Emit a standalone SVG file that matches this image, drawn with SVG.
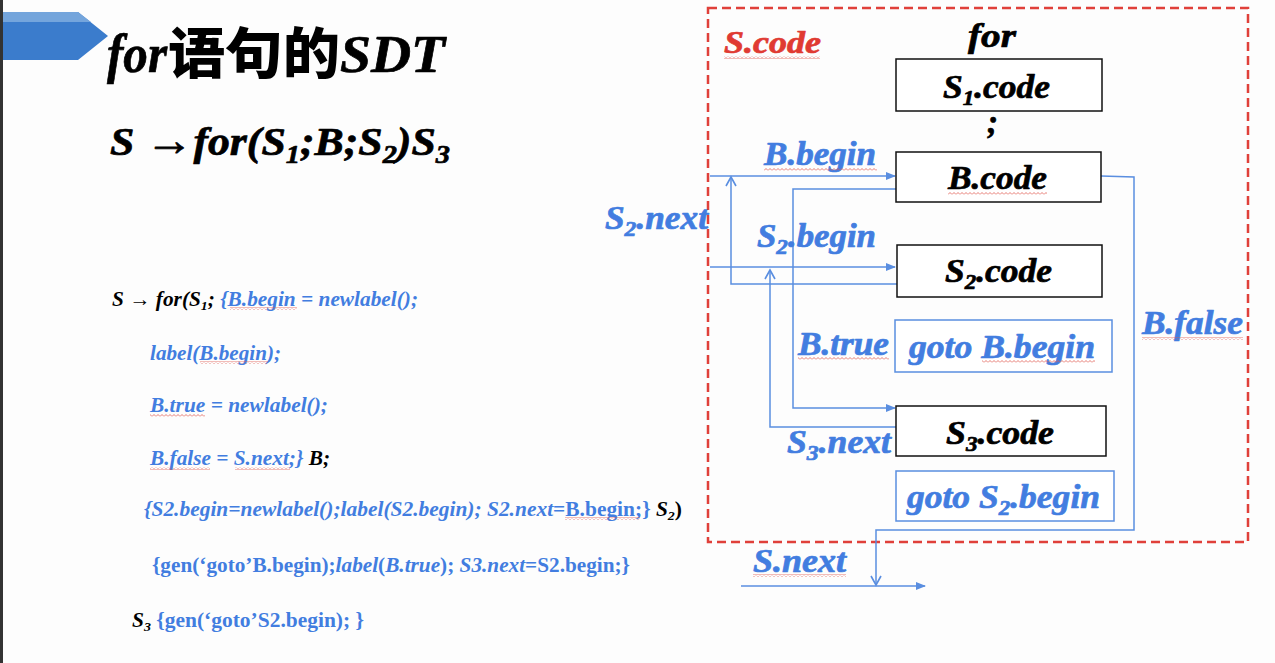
<svg xmlns="http://www.w3.org/2000/svg" width="1275" height="663" viewBox="0 0 1275 663">
<style>
text{font-family:"Liberation Serif","Times New Roman",serif;font-weight:bold;font-style:italic}
.k{fill:#000}
.b{fill:#427de0}
.r{fill:#e03a32}
.up{font-style:normal}
.cjk{font-family:"Noto Sans CJK SC",sans-serif;font-style:normal;font-weight:900}
.heavy{stroke-width:0.7;stroke-linejoin:round}
.heavy.k{stroke:#000}
.heavy.b{stroke:#427de0}
.heavy.r{stroke:#e03a32}
.box{fill:#fff;stroke:#111;stroke-width:1.5}
.bbox{fill:#fff;stroke:#5a8ee0;stroke-width:1.5}
.ln{fill:none;stroke:#5a8ee0;stroke-width:1.5}
.wave{fill:url(#wv)}
</style>
<defs>
<marker id="tri" markerWidth="10" markerHeight="8" refX="9" refY="4" orient="auto" markerUnits="userSpaceOnUse"><path d="M0,0 L10,4 L0,8 z" fill="#5a8ee0"/></marker>
<marker id="vee" markerWidth="12" markerHeight="12" refX="10" refY="6" orient="auto" markerUnits="userSpaceOnUse"><path d="M1,1 L10,6 L1,11" fill="none" stroke="#5a8ee0" stroke-width="1.6"/></marker>
<pattern id="wv" width="4" height="3" patternUnits="userSpaceOnUse"><path d="M0,2.5 L2,0.5 L4,2.5" fill="none" stroke="#e05a50" stroke-width="0.8"/></pattern>
</defs>
<rect width="1275" height="663" fill="#fdfdfd"/>
<rect x="0" y="0" width="3" height="663" fill="#333"/>
<g id="banner">
<polygon points="3,12 78,12 108,36 78,60 3,60" fill="#3b7ccc"/>
<polygon points="3,12 78,12 91,22 3,22" fill="#74a5dc"/>
</g>
<g id="title">
<text x="107" y="72" font-size="54" class="k heavy" textLength="60" lengthAdjust="spacingAndGlyphs">for</text>
<text x="168" y="73" font-size="55" class="k cjk" textLength="172" lengthAdjust="spacingAndGlyphs">语句的</text>
<text x="340" y="72" font-size="52" class="k heavy" textLength="105" lengthAdjust="spacingAndGlyphs">SDT</text>
</g>
<g id="production">
<text x="110" y="155" font-size="40" class="k heavy" textLength="340" lengthAdjust="spacingAndGlyphs">S <tspan font-size="44">→</tspan>for(S<tspan dy="8" font-size="26">1</tspan><tspan dy="-8">;B;S</tspan><tspan dy="8" font-size="26">2</tspan><tspan dy="-8">)S</tspan><tspan dy="8" font-size="26">3</tspan></text>
</g>
<g id="sdt-rules" font-size="20">
<text x="112" y="306" font-size="20" textLength="306" lengthAdjust="spacingAndGlyphs"><tspan class="k">S → for(S</tspan><tspan class="k" dy="4" font-size="13">1</tspan><tspan class="k" dy="-4">; </tspan><tspan class="b">{B.begin = newlabel();</tspan></text>
<text x="150" y="360" font-size="20" class="b" textLength="131" lengthAdjust="spacingAndGlyphs">label(B.begin);</text>
<text x="150" y="412" font-size="20" class="b" textLength="178" lengthAdjust="spacingAndGlyphs">B.true = newlabel();</text>
<text x="150" y="465" font-size="20" textLength="180" lengthAdjust="spacingAndGlyphs"><tspan class="b">B.false = S.next;}</tspan><tspan class="k"> B;</tspan></text>
<text x="144" y="516" font-size="20" textLength="538" lengthAdjust="spacingAndGlyphs"><tspan class="b">{S2.begin=newlabel();label(S2.begin); S2.next</tspan><tspan class="b up">=B.begin;}</tspan><tspan class="k"> S</tspan><tspan class="k" dy="4" font-size="13">2</tspan><tspan class="k up" dy="-4">)</tspan></text>
<text x="152" y="572" font-size="20" textLength="478" lengthAdjust="spacingAndGlyphs"><tspan class="b up">{gen(‘goto’B.begin);</tspan><tspan class="b">label</tspan><tspan class="b up">(</tspan><tspan class="b">B.true</tspan><tspan class="b up">); </tspan><tspan class="b">S3.next</tspan><tspan class="b up">=S2.begin;}</tspan></text>
<text x="132" y="627" font-size="20" textLength="232" lengthAdjust="spacingAndGlyphs"><tspan class="k">S</tspan><tspan class="k" dy="4" font-size="13">3</tspan><tspan class="b up" dy="-4"> {gen(‘goto’S2.begin); }</tspan></text>
<rect class="wave" x="230" y="307" width="67" height="3"/>
<rect class="wave" x="200" y="361" width="68" height="3"/>
<rect class="wave" x="150" y="414" width="55" height="3"/>
<rect class="wave" x="150" y="467" width="60" height="3"/>
<rect class="wave" x="235" y="467" width="55" height="3"/>
<rect class="wave" x="565" y="517" width="75" height="3"/>
</g>
<g id="scode-frame">
<rect x="708" y="8" width="540" height="534" fill="none" stroke="#e0403a" stroke-width="2.5" stroke-dasharray="9 5"/>
<text x="724" y="53" font-size="31" class="r heavy" textLength="97" lengthAdjust="spacingAndGlyphs">S.code</text>
<rect class="wave" x="724" y="56" width="96" height="3"/>
<text x="968" y="47" font-size="33" class="k heavy" textLength="48" lengthAdjust="spacingAndGlyphs">for</text>
<text x="987" y="133" font-size="33" class="k heavy">;</text>
</g>
<g id="connectors">
<path class="ln" d="M710,176 H895" marker-end="url(#tri)"/>
<path class="ln" d="M897,284 H731 V177" marker-end="url(#vee)"/>
<path class="ln" d="M710,267 H895" marker-end="url(#tri)"/>
<path class="ln" d="M896,427 H770 V270" marker-end="url(#vee)"/>
<path class="ln" d="M896,189 H793 V408 H895" marker-end="url(#tri)"/>
<path class="ln" d="M1101,176 L1134,177 V530 H876 V585" marker-end="url(#vee)"/>
<path class="ln" d="M741,586 H925" marker-end="url(#tri)"/>
</g>
<g id="label-bbegin">
<text x="764" y="165" font-size="33" class="b heavy" textLength="112" lengthAdjust="spacingAndGlyphs">B.begin</text>
<rect class="wave" x="764" y="168" width="113" height="3"/>
</g>
<g id="label-s2next">
<text x="605" y="229" font-size="33" class="b heavy" textLength="103" lengthAdjust="spacingAndGlyphs">S<tspan dy="7" font-size="22">2</tspan><tspan dy="-7">.next</tspan></text>
</g>
<g id="label-s2begin">
<text x="757" y="247" font-size="33" class="b heavy" textLength="119" lengthAdjust="spacingAndGlyphs">S<tspan dy="7" font-size="22">2</tspan><tspan dy="-7">.begin</tspan></text>
</g>
<g id="label-btrue">
<text x="798" y="355" font-size="33" class="b heavy" textLength="91" lengthAdjust="spacingAndGlyphs">B.true</text>
<rect class="wave" x="798" y="357" width="91" height="3"/>
</g>
<g id="label-s3next">
<text x="787" y="453" font-size="33" class="b heavy" textLength="104" lengthAdjust="spacingAndGlyphs">S<tspan dy="7" font-size="22">3</tspan><tspan dy="-7">.next</tspan></text>
</g>
<g id="label-bfalse">
<text x="1142" y="334" font-size="33" class="b heavy" textLength="101" lengthAdjust="spacingAndGlyphs">B.false</text>
<rect class="wave" x="1142" y="337" width="101" height="3"/>
</g>
<g id="label-snext">
<text x="753" y="572" font-size="33" class="b heavy" textLength="93" lengthAdjust="spacingAndGlyphs">S.next</text>
<rect class="wave" x="753" y="574" width="93" height="3"/>
</g>
<g id="node-s1code">
<rect class="box" x="896" y="59" width="206" height="52"/>
<text x="943" y="98" font-size="34" class="k heavy" textLength="107" lengthAdjust="spacingAndGlyphs">S<tspan dy="7" font-size="22">1</tspan><tspan dy="-7">.code</tspan></text>
</g>
<g id="node-bcode">
<rect class="box" x="896" y="152" width="205" height="50"/>
<text x="948" y="189" font-size="34" class="k heavy" textLength="99" lengthAdjust="spacingAndGlyphs">B.code</text>
<rect class="wave" x="948" y="192" width="99" height="3"/>
</g>
<g id="node-s2code">
<rect class="box" x="897" y="245" width="205" height="52"/>
<text x="945" y="282" font-size="34" class="k heavy" textLength="107" lengthAdjust="spacingAndGlyphs">S<tspan dy="7" font-size="22">2</tspan><tspan dy="-7">.code</tspan></text>
</g>
<g id="node-gotob">
<rect class="bbox" x="895" y="320" width="217" height="52"/>
<text x="909" y="358" font-size="34" class="b heavy" textLength="186" lengthAdjust="spacingAndGlyphs">goto B.begin</text>
<rect class="wave" x="982" y="360" width="113" height="3"/>
</g>
<g id="node-s3code">
<rect class="box" x="896" y="406" width="210" height="50"/>
<text x="946" y="444" font-size="34" class="k heavy" textLength="108" lengthAdjust="spacingAndGlyphs">S<tspan dy="7" font-size="22">3</tspan><tspan dy="-7">.code</tspan></text>
</g>
<g id="node-gotos2">
<rect class="bbox" x="896" y="471" width="218" height="50"/>
<text x="907" y="508" font-size="34" class="b heavy" textLength="193" lengthAdjust="spacingAndGlyphs">goto S<tspan dy="7" font-size="22">2</tspan><tspan dy="-7">.begin</tspan></text>
</g>
</svg>
